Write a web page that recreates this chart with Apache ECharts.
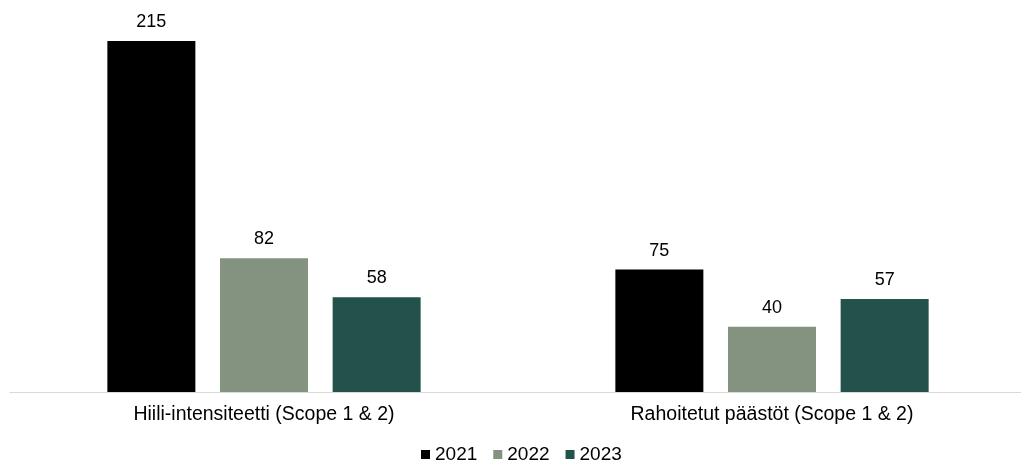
<!DOCTYPE html>
<html><head><meta charset="utf-8">
<script src="https://cdn.jsdelivr.net/npm/echarts@6/dist/echarts.min.js"></script>
<style>html,body{margin:0;padding:0;background:#fff;overflow:hidden}#c{width:1036px;height:463px}</style>
</head><body><div id="c"></div>
<script>
const categories = ['Hiili-intensiteetti (Scope 1 & 2)', 'Rahoitetut päästöt (Scope 1 & 2)'];
const seriesNames = ['2021', '2022', '2023'];
const values2021 = [215, 75];
const values2022 = [82, 40];
const values2023 = [58, 57];
const colors = ['#000000', '#84937f', '#22524a'];
const allValues = [values2021, values2022, values2023];

const chart = echarts.init(document.getElementById('c'));
const font = 'Liberation Sans, Arial, sans-serif';
chart.setOption({
  animation: false,
  textStyle: { fontFamily: font },
  legend: {
    data: seriesNames,
    top: 440,
    left: 416,
    icon: 'rect',
    itemWidth: 9,
    itemHeight: 9,
    itemGap: 16,
    textStyle: { fontSize: 19, color: '#000', fontFamily: font }
  },
  grid: { left: 10, width: 1016, top: 41, bottom: 71, containLabel: false },
  xAxis: {
    type: 'category',
    data: categories,
    axisLine: { lineStyle: { color: '#d9d9d9', width: 1 } },
    axisTick: { show: false },
    axisLabel: { fontSize: 19.5, color: '#000', margin: 13, fontFamily: font }
  },
  yAxis: {
    type: 'value', min: 0, max: 215,
    show: false, splitLine: { show: false }
  },
  series: seriesNames.map((n, i) => ({
    name: n,
    type: 'bar',
    data: allValues[i],
    barWidth: 88,
    barGap: '28%',
    itemStyle: { color: colors[i] },
    label: { show: true, position: 'top', distance: 10, fontSize: 18, color: '#000', fontFamily: font }
  }))
});
</script></body></html>
